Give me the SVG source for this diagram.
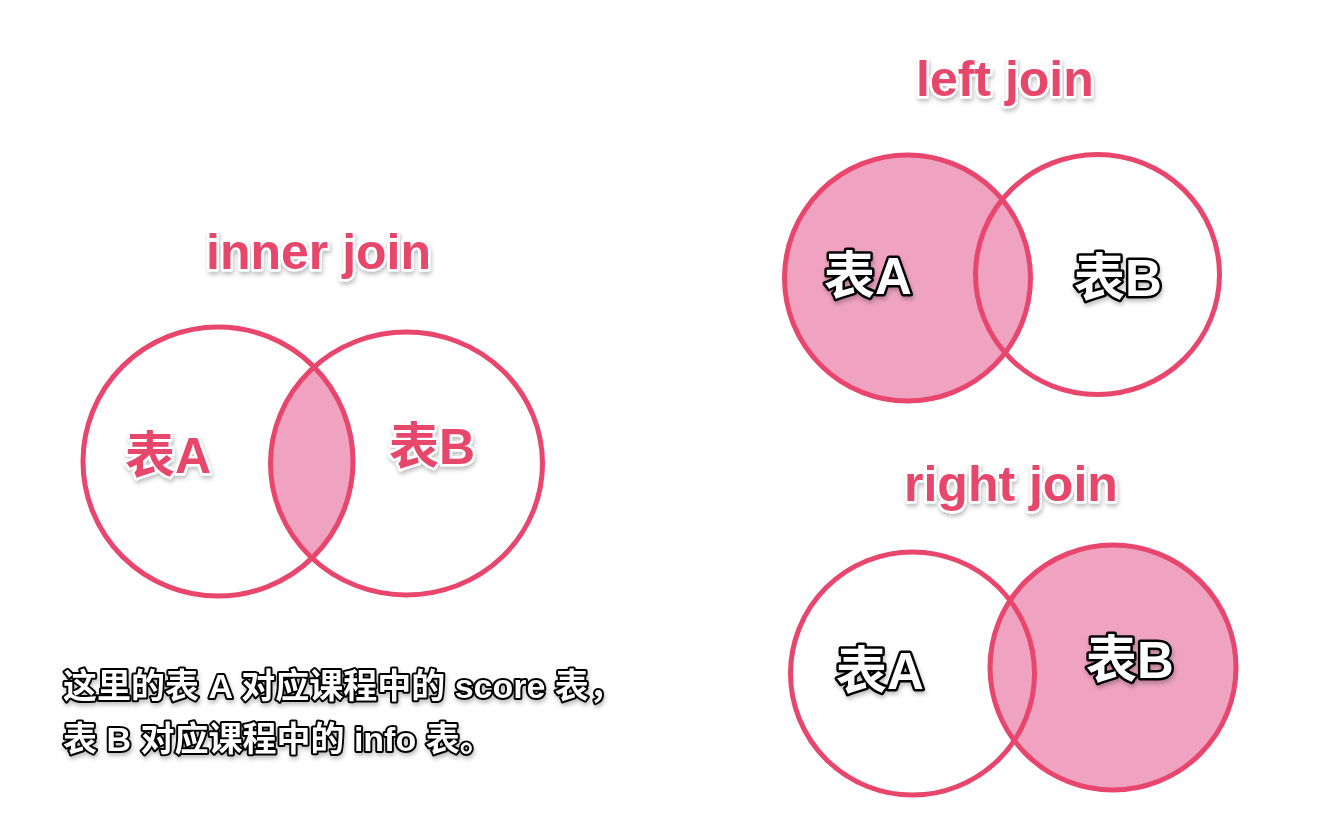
<svg xmlns="http://www.w3.org/2000/svg" width="1324" height="822" viewBox="0 0 1324 822">
<defs>
<filter id="sh" x="-10%" y="-20%" width="120%" height="150%">
<feDropShadow dx="1" dy="3" stdDeviation="2" flood-color="#000" flood-opacity="0.25"/>
</filter>
<clipPath id="innerA"><ellipse cx="218" cy="461.5" rx="135" ry="134.5"/></clipPath>
</defs>
<style>
.ring{fill:none;stroke:#E8466C;stroke-width:5}
.fill{fill:#EFA3C0}
.title{font-family:"Liberation Sans","Noto Sans CJK SC",sans-serif;font-weight:bold;font-size:50px;fill:#E8466C;stroke:#fff;stroke-width:5;paint-order:stroke;stroke-linejoin:round;filter:url(#sh)}
.pink{font-family:"Liberation Sans","Noto Sans CJK SC",sans-serif;font-weight:bold;font-size:50px;fill:#E8466C;stroke:#fff;stroke-width:5;paint-order:stroke;stroke-linejoin:round;filter:url(#sh)}
.white{font-family:"Liberation Sans","Noto Sans CJK SC",sans-serif;font-weight:bold;font-size:51px;fill:#fff;stroke:#000;stroke-width:5;paint-order:stroke;stroke-linejoin:round;filter:url(#sh)}
.note{font-family:"Liberation Sans","Noto Sans CJK SC",sans-serif;font-weight:bold;font-size:34px;fill:#fff;stroke:#000;stroke-width:4;paint-order:stroke;stroke-linejoin:round;filter:url(#sh)}
</style>
<rect width="1324" height="822" fill="#fff"/>
<g id="inner-join">
<ellipse class="fill" cx="406.5" cy="463.5" rx="136" ry="131.5" clip-path="url(#innerA)"/>
<ellipse class="ring" cx="218" cy="461.5" rx="135" ry="134.5"/>
<ellipse class="ring" cx="406.5" cy="463.5" rx="136" ry="131.5"/>
<text class="title" x="206" y="269">inner join</text>
<text class="pink" x="125" y="473">表A</text>
<text class="pink" x="389" y="464">表B</text>
</g>
<g id="left-join">
<ellipse class="fill" cx="907.5" cy="278" rx="123" ry="123"/>
<ellipse class="ring" cx="907.5" cy="278" rx="123" ry="123"/>
<ellipse class="ring" cx="1097.5" cy="274.5" rx="122" ry="120"/>
<text class="title" x="916" y="96">left join</text>
<text class="white" x="824" y="294">表A</text>
<text class="white" x="1074" y="296">表B</text>
</g>
<g id="right-join">
<ellipse class="fill" cx="1113" cy="667.5" rx="123" ry="122.5"/>
<ellipse class="ring" cx="912.5" cy="673.5" rx="122" ry="121.5"/>
<ellipse class="ring" cx="1113" cy="667.5" rx="123" ry="122.5"/>
<text class="title" x="904" y="501">right join</text>
<text class="white" x="836" y="689">表A</text>
<text class="white" x="1086" y="678">表B</text>
</g>
<g id="note">
<text class="note" x="63" y="698">这里的表 A 对应课程中的 score 表，</text>
<text class="note" x="63" y="751">表 B 对应课程中的 info 表。</text>
</g>
<g id="connectors"/>
</svg>
